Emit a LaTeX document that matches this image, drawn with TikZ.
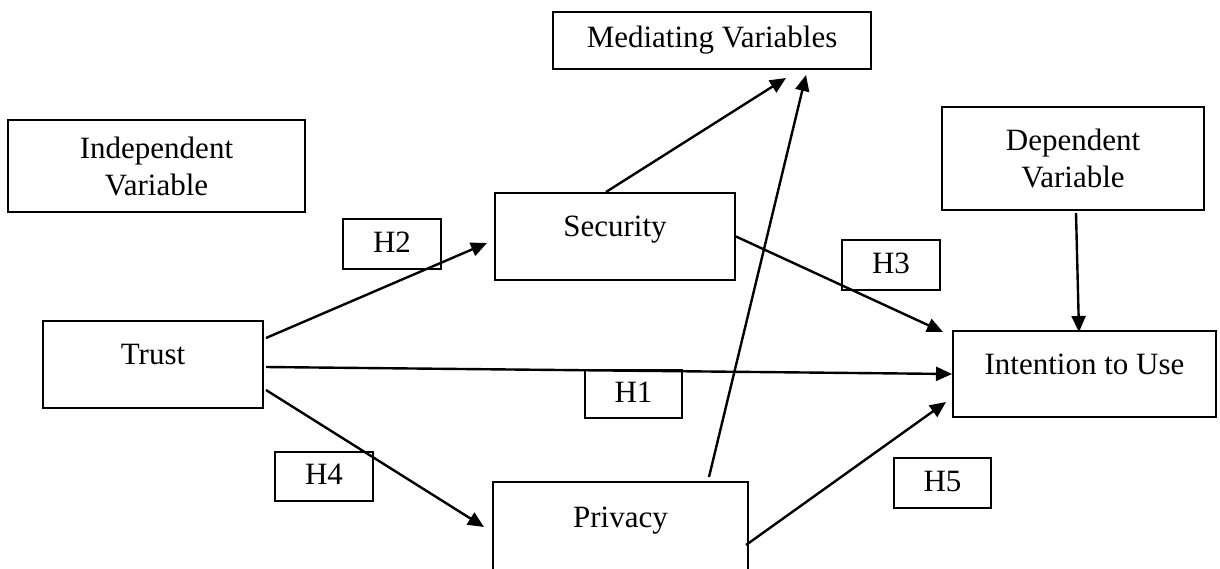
\documentclass[tikz,border=0pt]{standalone}
\usepackage{fontspec}
\setmainfont{Liberation Serif}
\usetikzlibrary{arrows.meta,calc}

\begin{document}
\begin{tikzpicture}[x=0.5pt,y=-0.5pt,
	box/.style={draw, line width=1pt, inner sep=0pt, align=center, font=\fontsize{15.5}{18.5}\selectfont},
	var/.style={box, text height=11pt, text depth=11pt},
	hyp/.style={box, text height=11pt, text depth=3pt},
	wh/.style 2 args={minimum width=#1*0.5pt, minimum height=#2*0.5pt},
	link/.style={line width=1.2pt, -{Triangle[length=8pt,width=7pt]}}]
	\useasboundingbox (0,0) rectangle (1220,568);
	\node[box, wh={297}{92}] (indep) at (156.5,166) {Independent\\Variable};
	\node[box, wh={318}{57}] (med) at (712,40.5) {Mediating Variables};
	\node[var, wh={240}{87}] (sec) at (615,236.5) {Security};
	\node[box, wh={262}{103}] (dep) at (1073,158.5) {Dependent\\Variable};
	\node[var, wh={220}{87}] (trust) at (153,364.5) {Trust};
	\node[var, wh={263}{86}] (intent) at (1084.5,374) {Intention to Use};
	\node[var, wh={255}{90}] (priv) at (620.5,527) {Privacy};
	\node[hyp, wh={98}{50}] (h2) at (392,244) {H2};
	\node[hyp, wh={98}{50}] (h3) at (891,265) {H3};
	\node[hyp, wh={97}{48}] (h1) at (633.5,394) {H1};
	\node[hyp, wh={98}{49}] (h4) at (324,476.5) {H4};
	\node[hyp, wh={97}{50}] (h5) at (942.5,483) {H5};
	\draw[link] ($(trust.east)+(2,-26.5)$) -- ($(sec.west)+(-7,6.5)$);
	\draw[link] ($(trust.east)+(2,2.5)$) -- (intent.west);
	\draw[link] ($(trust.east)+(2,25.5)$) -- ($(priv.west)+(-8,0)$);
	\draw[link] ($(sec.north)+(-9,0)$) -- ($(med.south)+(74,8)$);
	\draw[link] (sec.east) -- ($(intent.north west)+(-9,2)$);
	\draw[link] ($(priv.north)+(88.5,-4)$) -- ($(med.south)+(94,5)$);
	\draw[link] ($(priv.east)+(-3,18)$) -- ($(intent.west)+(-6,28)$);
	\draw[link] ($(dep.south)+(3,2)$) -- ($(intent.north)+(-5.5,2)$);
\end{tikzpicture}
\end{document}
